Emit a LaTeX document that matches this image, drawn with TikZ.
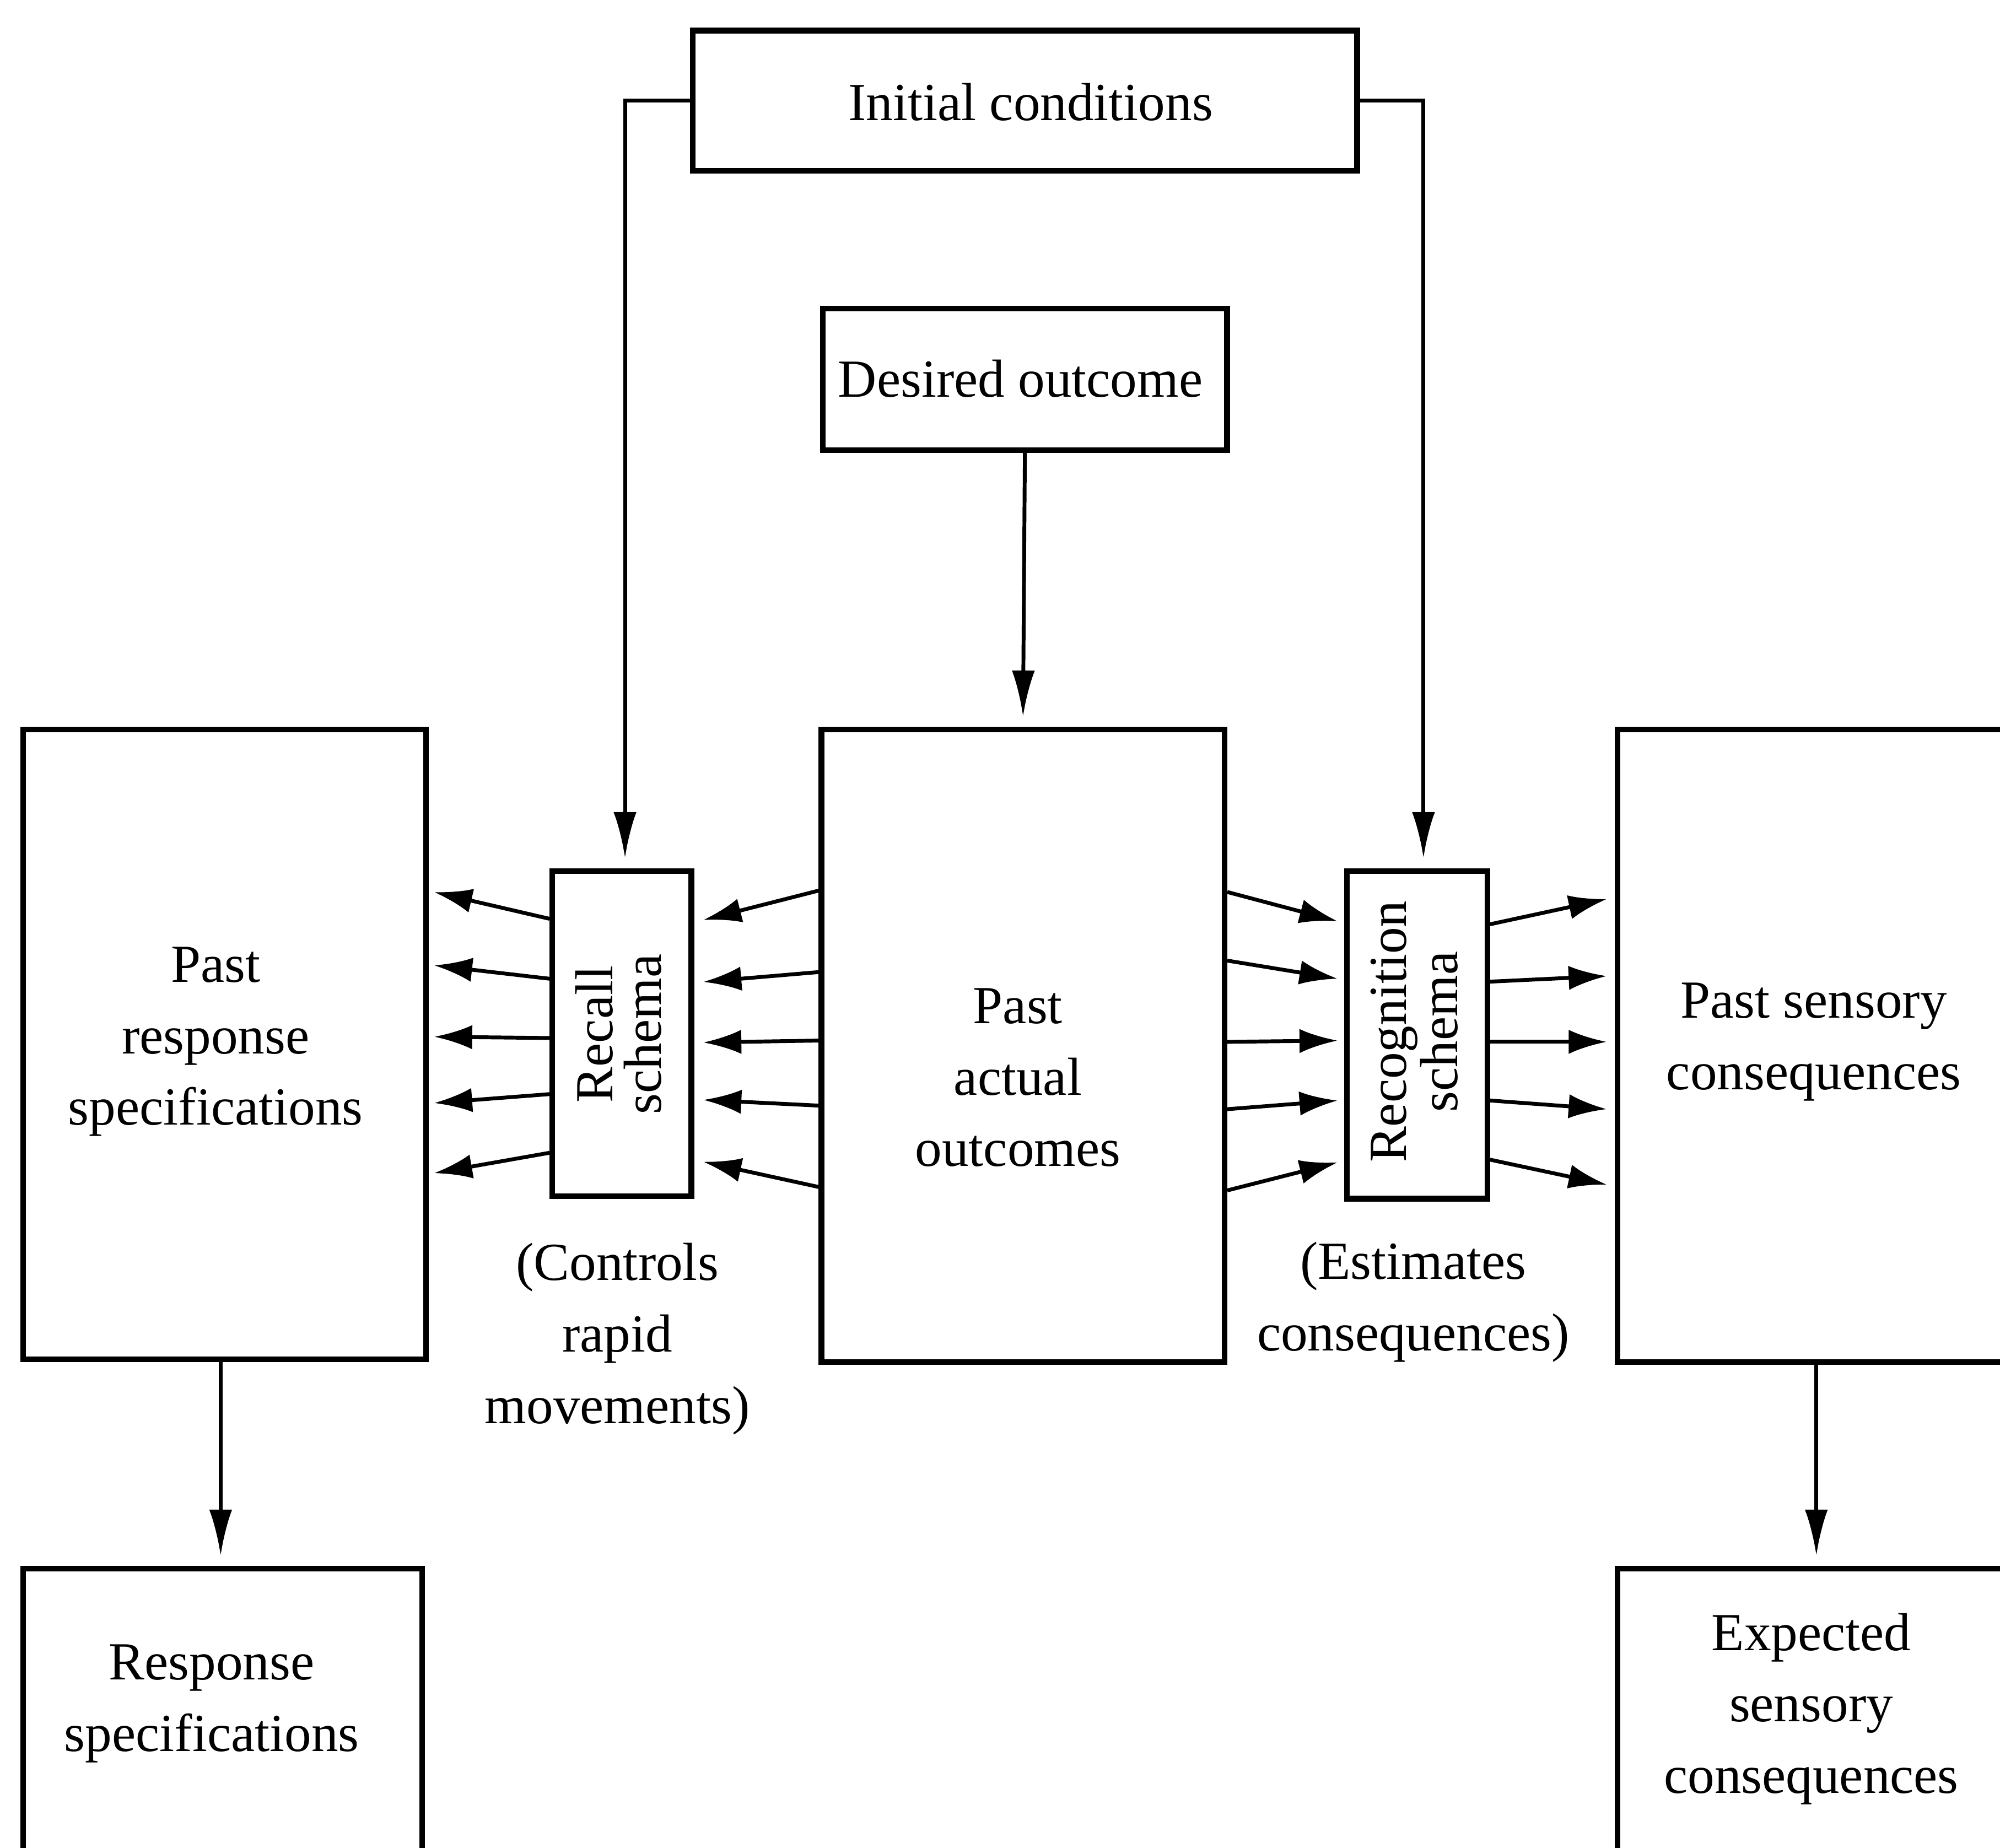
\documentclass[tikz,border=0pt]{standalone}
\usepackage{fontspec}
\setmainfont{Liberation Serif}
\usetikzlibrary{arrows.meta,calc}
\begin{document}
\begin{tikzpicture}[x=0.5pt,y=-0.5pt,
  box/.style={draw, line width=2.2pt, inner sep=0pt},
  txt/.style={align=center, font=\fontsize{21}{28}\selectfont, inner sep=0pt},
  rtxt/.style={align=center, rotate=90, font=\fontsize{21}{19}\selectfont, inner sep=0pt},
  conn/.style={line width=1.5pt, -{Latex[length=18pt,width=9pt]}, shorten >=4pt},
  fan/.style={line width=1.5pt, -{Latex[length=15pt,width=9.5pt]}},
]
\useasboundingbox (0,0) rectangle (1568,1449);
\fill[white] (0,0) rectangle (1568,1449);
\clip (0,0) rectangle (1568,1449);

% boxes
\node[box, minimum width=260.5pt, minimum height=55pt] (ic) at (803.5,79) {};
\node[box, minimum width=158.5pt, minimum height=55.5pt] (do) at (803.5,297.5) {};
\node[box, minimum width=158pt, minimum height=247pt] (pr) at (176,819) {};
\node[box, minimum width=54.5pt, minimum height=127.5pt] (rc) at (487.5,810.5) {};
\node[box, minimum width=158pt, minimum height=248pt] (pa) at (802,820) {};
\node[box, minimum width=55pt, minimum height=128.5pt] (rg) at (1111,811.5) {};
\node[box, minimum width=154pt, minimum height=248pt] (ps) at (1422,820) {};
\node[box, minimum width=156.5pt, minimum height=112pt] (rs) at (174.5,1342) {};
\node[box, minimum width=154pt, minimum height=112pt] (es) at (1422,1342) {};

% texts
\node[txt] (ict) at (808,80) {Initial conditions};
\node[txt] (dot) at (800,297) {Desired outcome};
\node[txt] (prt) at (169,817) {Past\\response\\specifications};
\node[txt] (pat) at (798,845) {Past\\actual\\outcomes};
\node[txt] (pst) at (1422,817) {Past sensory\\consequences};
\node[txt] (rst) at (166,1336) {Response\\specifications};
\node[txt] (est) at (1420,1340) {Expected\\sensory\\consequences};
\node[rtxt] (rct) at (485,811) {Recall\\schema};
\node[rtxt] (rgt) at (1109,809) {Recognition\\schema};
\node[txt] (ctl) at (484,1050) {(Controls\\rapid\\movements)};
\node[txt] (esl) at (1108,1021) {(Estimates\\consequences)};

% vertical connectors
\draw[conn] (ic.west) -| ($(rc.north)+(2.5,0)$);
\draw[conn] (ic.east) -| ($(rg.north)+(5,0)$);
\draw[conn] (do.south) -- (pa.north);
\draw[conn] ($(pr.south)+(-3,0)$) -- ($(pr.south |- rs.north)+(-3,0)$);
\draw[conn] ($(ps.south)+(2,0)$) -- ($(ps.south |- es.north)+(2,0)$);

% fan: recall -> past response
\draw[fan] ($(rc.west)+(0,-90)$) -- ($(pr.east)+(4,-119.5)$);
\draw[fan] ($(rc.west)+(0,-43)$) -- ($(pr.east)+(4,-62)$);
\draw[fan] ($(rc.west)+(0,3.5)$) -- ($(pr.east)+(4,-6)$);
\draw[fan] ($(rc.west)+(0,47.5)$) -- ($(pr.east)+(4,46)$);
\draw[fan] ($(rc.west)+(0,93.5)$) -- ($(pr.east)+(4,101)$);

% fan: past actual -> recall
\draw[fan] ($(pa.west)+(0,-121.6)$) -- ($(rc.east)+(7,-89)$);
\draw[fan] ($(pa.west)+(0,-57.7)$) -- ($(rc.east)+(7,-40.5)$);
\draw[fan] ($(pa.west)+(0,-4)$) -- ($(rc.east)+(7,7)$);
\draw[fan] ($(pa.west)+(0,47)$) -- ($(rc.east)+(7,52)$);
\draw[fan] ($(pa.west)+(0,110.8)$) -- ($(rc.east)+(7,100.5)$);

% fan: past actual -> recognition
\draw[fan] ($(pa.east)+(0,-120.5)$) -- ($(rg.west)+(-5,-89)$);
\draw[fan] ($(pa.east)+(0,-66.7)$) -- ($(rg.west)+(-5,-44)$);
\draw[fan] ($(pa.east)+(0,-3)$) -- ($(rg.west)+(-5,4.5)$);
\draw[fan] ($(pa.east)+(0,49.8)$) -- ($(rg.west)+(-5,51.5)$);
\draw[fan] ($(pa.east)+(0,113.5)$) -- ($(rg.west)+(-5,100)$);

% fan: recognition -> past sensory
\draw[fan] ($(rg.east)+(0,-86.7)$) -- ($(ps.west)+(-6,-115)$);
\draw[fan] ($(rg.east)+(0,-41.7)$) -- ($(ps.west)+(-6,-54.6)$);
\draw[fan] ($(rg.east)+(0,5.5)$) -- ($(ps.west)+(-6,-3)$);
\draw[fan] ($(rg.east)+(0,51.5)$) -- ($(ps.west)+(-6,49.8)$);
\draw[fan] ($(rg.east)+(0,97.9)$) -- ($(ps.west)+(-6,109)$);
\end{tikzpicture}
\end{document}
